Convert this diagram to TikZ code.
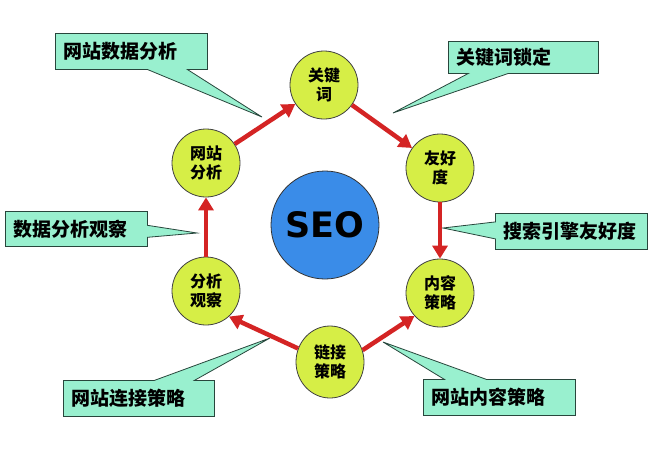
\documentclass[tikz,border=0pt]{standalone}
\usepackage{fontspec}
\usetikzlibrary{shapes.geometric,shapes.callouts,arrows.meta}
\newfontfamily\cjk{Noto Sans CJK SC Black}
\newfontfamily\seofont{DejaVu Sans}
\definecolor{limefill}{RGB}{214,238,70}
\definecolor{tipfill}{RGB}{153,240,207}
\definecolor{tipline}{RGB}{40,70,60}
\definecolor{seoblue}{RGB}{58,140,232}
\definecolor{arrowred}{RGB}{212,36,36}

\begin{document}
\begin{tikzpicture}[x=1pt, y=-1pt,
stage/.style={circle, draw=black!75, fill=limefill, line width=0.8pt, minimum size=68pt, inner sep=0pt, align=center, font=\cjk\fontsize{16}{19}\selectfont},
tipbox/.style={rectangle callout, draw=tipline, fill=tipfill, line width=0.8pt, inner xsep=8pt, inner ysep=0pt, minimum height=36pt, anchor=north west, align=left, font=\cjk\fontsize{19}{20}\selectfont},
flow/.style={draw=arrowred, line width=4.5pt, -{Triangle[length=13pt,width=15pt]}}]
\useasboundingbox[fill=white] (0,0) rectangle (660,450);

\coordinate (pdata) at (262,117);
\coordinate (pkw) at (393,113);
\coordinate (pseek) at (443,228);
\coordinate (pobs) at (197,233);
\coordinate (plink) at (270,338);
\coordinate (pcont) at (383,342);

\node[tipbox, text width=136pt, callout absolute pointer={(pdata)}, callout pointer width=40pt] (tdata) at (55,33) {网站数据分析};
\node[tipbox, text width=134pt, minimum height=32pt, callout absolute pointer={(pkw)}, callout pointer width=40pt] (tkw) at (448,41) {关键词锁定};
\node[tipbox, text width=136pt, callout absolute pointer={(pseek)}, callout pointer width=17pt] (tseek) at (495,213) {搜索引擎友好度};
\node[tipbox, text width=126pt, minimum height=35pt, callout absolute pointer={(pobs)}, callout pointer width=12pt] (tobs) at (5,211) {数据分析观察};
\node[tipbox, text width=135pt, callout absolute pointer={(plink)}, callout pointer width=40pt] (tlink) at (63,380) {网站连接策略};
\node[tipbox, text width=136pt, callout absolute pointer={(pcont)}, callout pointer width=42pt] (tcont) at (423,379) {网站内容策略};

\node[circle, draw=black!80, fill=seoblue, line width=0.8pt, minimum size=108pt, font=\seofont\bfseries\fontsize{35}{35}\selectfont] (seo) at (325,225) {SEO};

\node[stage] (gjc) at (324,85) {关键\\词};
\node[stage] (yhd) at (440,168) {友好\\度};
\node[stage] (nrcl) at (440,293) {内容\\策略};
\node[stage, ellipse, minimum width=68pt, minimum height=72pt] (ljcl) at (330,362) {链接\\策略};
\node[stage] (fxgc) at (206,291) {分析\\观察};
\node[stage] (wzfx) at (206,163) {网站\\分析};

\draw[flow] (wzfx) -- (gjc);
\draw[flow] (gjc) -- (yhd);
\draw[flow] (yhd) -- (nrcl);
\draw[flow] (ljcl.20) -- (nrcl.222);
\draw[flow] (ljcl.157) -- (fxgc.-48);
\draw[flow] (fxgc) -- (wzfx);
\end{tikzpicture}
\end{document}
